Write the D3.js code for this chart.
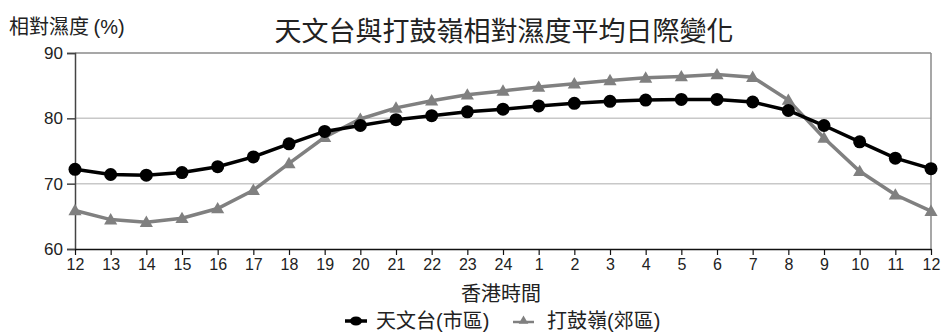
<!DOCTYPE html>
<html><head><meta charset="utf-8">
<script src="https://cdn.jsdelivr.net/npm/d3@7"></script>
<style>body{margin:0;background:#fff}svg{display:block}text{font-family:"Liberation Sans",Arial,"Noto Sans CJK TC",sans-serif}</style>
</head><body>
<script>
const hours = ["12","13","14","15","16","17","18","19","20","21","22","23","24","1","2","3","4","5","6","7","8","9","10","11","12"];
const hko = [72.2,71.4,71.3,71.7,72.6,74.1,76.1,78.0,78.9,79.8,80.4,81.0,81.4,81.9,82.3,82.6,82.8,82.9,82.9,82.5,81.2,78.9,76.4,73.9,72.3];
const tkl = [65.9,64.5,64.1,64.7,66.2,69.0,73.1,77.1,79.9,81.6,82.7,83.6,84.2,84.8,85.3,85.8,86.2,86.4,86.7,86.3,82.8,77.0,71.9,68.3,65.8];
const yTicks = [60,70,80,90];
const seriesNames = ["天文台(市區)","打鼓嶺(郊區)"];

const W=942,H=333;
const m={l:75,r:11,t:53,b:84};
const svg=d3.select("body").append("svg").attr("width",W).attr("height",H);
const x=d3.scaleLinear().domain([0,hours.length-1]).range([m.l,W-m.r]);
const y=d3.scaleLinear().domain([60,90]).range([H-m.b,m.t]);
const cjk='"Noto Sans CJK TC","Noto Sans CJK SC",sans-serif';

// gridlines
svg.append("g").selectAll("line").data([70,80]).join("line")
  .attr("x1",m.l).attr("x2",W-m.r).attr("y1",d=>y(d)).attr("y2",d=>y(d))
  .attr("stroke","#c8c8c8").attr("stroke-width",1.5);
// top & right border
svg.append("line").attr("x1",m.l).attr("x2",W-m.r).attr("y1",y(90)).attr("y2",y(90)).attr("stroke","#8a8a8a").attr("stroke-width",1.5);
svg.append("line").attr("x1",W-m.r).attr("x2",W-m.r).attr("y1",y(90)).attr("y2",y(60)).attr("stroke","#8a8a8a").attr("stroke-width",1.5);

// y axis
const ya=svg.append("g").attr("transform",`translate(${m.l},0)`)
  .call(d3.axisLeft(y).tickValues(yTicks).tickSize(8).tickPadding(4));
ya.select(".domain").attr("stroke","#444").attr("stroke-width",1.5);
ya.selectAll(".tick line").attr("stroke","#444").attr("stroke-width",1.5);
ya.selectAll("text").attr("font-size",17).attr("fill","#222").attr("font-family","Liberation Sans, Arial, sans-serif");

// x axis
const xa=svg.append("g").attr("transform",`translate(0,${y(60)})`)
  .call(d3.axisBottom(x).tickValues(d3.range(hours.length)).tickFormat(i=>hours[i]).tickSize(6).tickSizeOuter(0).tickPadding(4));
xa.select(".domain").attr("stroke","#111").attr("stroke-width",1.5);
xa.selectAll(".tick line").attr("stroke","#111").attr("stroke-width",1.2);
xa.selectAll("text").attr("font-size",16).attr("fill","#222").attr("font-family","Liberation Sans, Arial, sans-serif");

const line=d3.line().x((d,i)=>x(i)).y(d=>y(d));
const grey="#808080";
svg.append("path").datum(tkl).attr("d",line).attr("fill","none").attr("stroke",grey).attr("stroke-width",3.5);
const tri=d3.symbol().type(d3.symbolTriangle).size(75);
svg.append("g").selectAll("path").data(tkl).join("path")
  .attr("d",tri).attr("transform",(d,i)=>`translate(${x(i)},${y(d)+1})`).attr("fill",grey);
svg.append("path").datum(hko).attr("d",line).attr("fill","none").attr("stroke","#000").attr("stroke-width",3.5);
svg.append("g").selectAll("circle").data(hko).join("circle")
  .attr("cx",(d,i)=>x(i)).attr("cy",d=>y(d)).attr("r",6.5).attr("fill","#000");

// titles
svg.append("text").attr("x",504).attr("y",41).attr("text-anchor","middle").attr("font-size",27)
  .attr("font-family",cjk).attr("fill","#222").text("天文台與打鼓嶺相對濕度平均日際變化");
const yl=svg.append("text").attr("x",9).attr("y",34).attr("font-size",20).attr("fill","#222");
yl.append("tspan").attr("font-family",cjk).text("相對濕度 ");
yl.append("tspan").attr("font-family","Liberation Sans, Arial, sans-serif").text("(%)");
svg.append("text").attr("x",501).attr("y",301).attr("text-anchor","middle").attr("font-size",20)
  .attr("font-family",cjk).attr("fill","#222").text("香港時間");

// legend
const lg=svg.append("g");
lg.append("line").attr("x1",345).attr("x2",367).attr("y1",321).attr("y2",321).attr("stroke","#000").attr("stroke-width",3.5);
lg.append("ellipse").attr("cx",356).attr("cy",321).attr("rx",6).attr("ry",4.5).attr("fill","#000");
lg.append("text").attr("x",376).attr("y",328).attr("font-size",20).attr("font-family",cjk).attr("fill","#222").text(seriesNames[0]);
lg.append("line").attr("x1",513).attr("x2",534).attr("y1",322).attr("y2",322).attr("stroke",grey).attr("stroke-width",2.5);
lg.append("path").attr("d",d3.symbol().type(d3.symbolTriangle).size(40)).attr("transform","translate(523.5,321)").attr("fill",grey);
lg.append("text").attr("x",547).attr("y",328).attr("font-size",20).attr("font-family",cjk).attr("fill","#222").text(seriesNames[1]);
</script>
</body></html>
